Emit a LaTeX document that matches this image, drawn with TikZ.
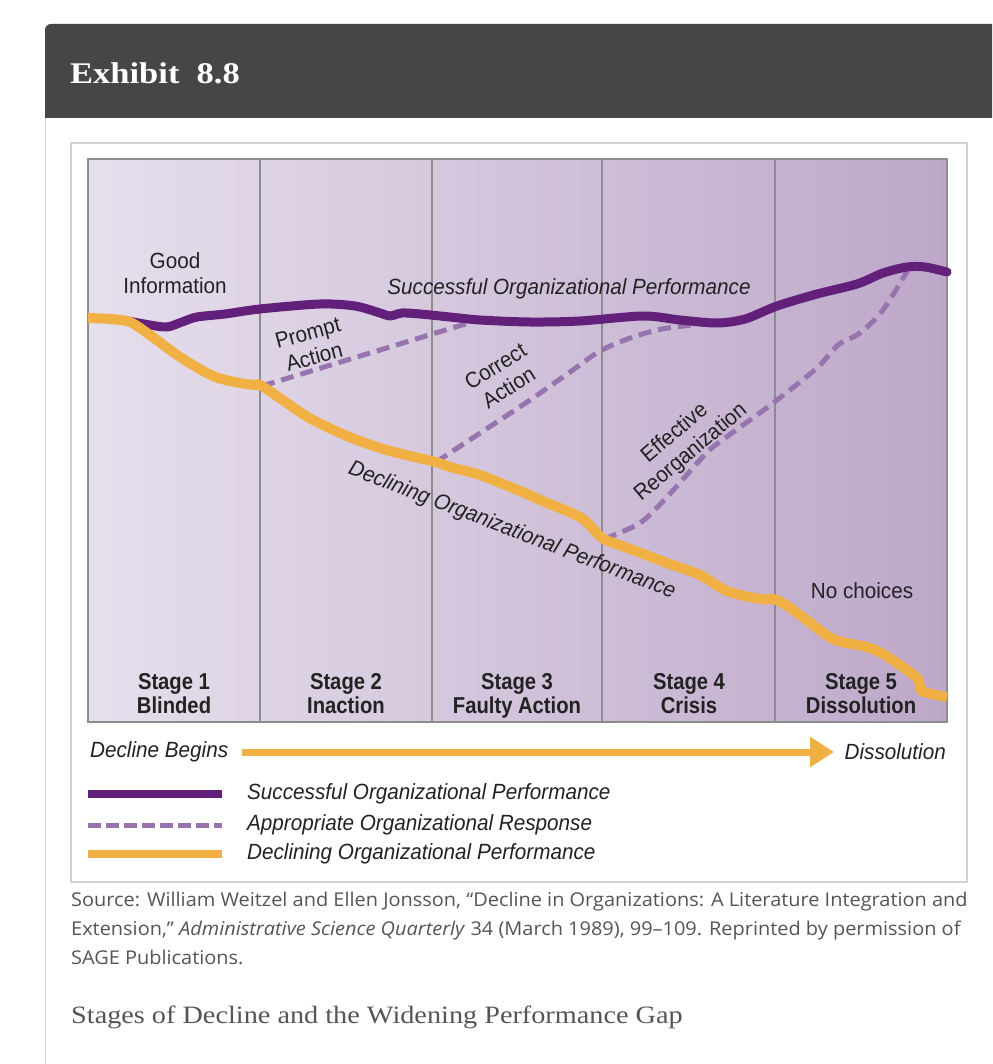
\documentclass[tikz,border=0pt]{standalone}
\usepackage{fontspec}
\setmainfont{Liberation Serif}
\newfontfamily\lab[FakeStretch=0.94]{Liberation Sans}
\newfontfamily\labb[FakeStretch=0.88]{Liberation Sans}
\newfontfamily\srcf[FakeStretch=1.05]{Open Sans}
\newfontfamily\hdrf[FakeStretch=1.15]{Liberation Serif}
\newfontfamily\capf[FakeStretch=1.13]{Liberation Serif}
\usetikzlibrary{arrows.meta}
\definecolor{hdrgray}{HTML}{464646}
\definecolor{cardline}{HTML}{D6D6D6}
\definecolor{framegray}{HTML}{D2D2D2}
\definecolor{gridgray}{HTML}{8C8C8C}
\definecolor{chartL}{HTML}{E6DFEC}
\definecolor{chartR}{HTML}{BDA7C9}
\definecolor{succ}{HTML}{62207A}
\definecolor{resp}{HTML}{9874AE}
\definecolor{decl}{HTML}{F1B043}
\definecolor{txt}{HTML}{222222}
\definecolor{srctxt}{HTML}{555555}
\tikzset{
  gridline/.style={draw=gridgray, line width=2},
  succline/.style={draw=succ, line width=9, line cap=round, line join=round},
  respline/.style={draw=resp, line width=5, dash pattern=on 13 off 7},
  declline/.style={draw=decl, line width=10, line join=round},
  lbl/.style={font=\lab\fontsize{22}{25}\selectfont, text=txt, inner sep=0, align=center},
  ilbl/.style={font=\lab\itshape\fontsize{22}{25}\selectfont, text=txt, inner sep=0, align=center},
  stagelbl/.style={font=\labb\bfseries\fontsize{23}{24}\selectfont, text=txt, inner sep=0, align=center, text depth=5},
  legtxt/.style={font=\lab\itshape\fontsize{22}{25}\selectfont, text=txt, inner sep=0, anchor=west},
  srctext/.style={font=\srcf\fontsize{19}{29}\selectfont, text=srctxt, inner sep=0, anchor=base west},
}
\begin{document}
\begin{tikzpicture}[x=1pt,y=-1pt]
\useasboundingbox (0,0) rectangle (992,1064);
\fill[white] (0,0) rectangle (992,1064);
% card
\draw[cardline, line width=1.5] (45.5,1064) -- (45.5,40);
\fill[hdrgray] (45,118) [rounded corners=6]-- (45,24) [sharp corners]-- (992,24) -- (992,118) -- cycle;
\node[anchor=base west, text=white, inner sep=0, font=\hdrf\bfseries\fontsize{30}{32}\selectfont] (title) at (70,84) {Exhibit\ \ 8.8};
% frame
\draw[framegray, line width=1.2] (71,143) rectangle (967,882);
% chart
\shade[left color=chartL, right color=chartR] (88,159) rectangle (947,722);
\foreach \xx in {260,432,602,775} \draw[gridline] (\xx,159) -- (\xx,722);
\draw[gridline] (88,159) rectangle (947,722);
% junction coordinates
\coordinate (d1) at (262,386);
\coordinate (s1) at (475,321);
\coordinate (d2) at (436,462);
\coordinate (s2) at (692,325);
\coordinate (d3) at (604,539);
\coordinate (s3) at (909,268);
% dashed responses
\draw[respline] (d1) -- (s1);
\draw[respline] plot[smooth, tension=0.5] coordinates {(d2) (500,420) (533,398) (570,372) (600,351) (633,337) (662,329) (s2)};
\draw[respline] plot[smooth, tension=0.5] coordinates {(d3) (640,523) (667,497) (700,460) (713,447) (750,420) (777,400) (817,368) (838,345) (860,333) (883,310) (s3)};
% successful
\draw[succline] plot[smooth, tension=0.5] coordinates {(128,321) (150,325) (167,327) (182,322) (197,317) (225,314) (260,309) (320,304) (355,306) (380,313) (390,316) (402,313) (420,314) (450,317) (480,320) (530,322) (580,321) (643,316) (680,320) (717,323) (745,319) (777,306) (817,294) (857,284) (883,273) (907,267) (925,267) (947,272)};
% declining
\draw[declline] plot[smooth, tension=0.5] coordinates {(88,318) (110,319) (130,322) (150,335) (180,357) (213,376) (240,383) (255,385) (d1) (297,410) (313,420) (347,436) (380,448) (410,456) (d2) (450,467) (480,475) (520,491) (545,502) (567,511) (583,519) (595,531) (d3) (633,550) (667,563) (700,575) (727,591) (760,599) (777,600) (800,615) (833,639) (867,647) (888,657) (917,678) (922,691) (947,697)};
% labels
\node[lbl] (good) at (175,273) {Good\\Information};
\node[ilbl] (succlbl) at (569,289) {Successful Organizational Performance};
\node[lbl, rotate=15] (prompt) at (311,345) {Prompt\\Action};
\node[lbl, rotate=32] (correct) at (502,377) {Correct\\Action};
\node[lbl, rotate=40] (effective) at (683,443) {Effective\\Reorganization};
\node[ilbl, rotate=-21] (decllbl) at (512,531) {Declining Organizational Performance};
\node[lbl] (nochoice) at (862,591) {No choices};
% stages
\node[stagelbl] (st1) at (174,696) {Stage 1\\Blinded};
\node[stagelbl] (st2) at (346,696) {Stage 2\\Inaction};
\node[stagelbl] (st3) at (517,696) {Stage 3\\Faulty Action};
\node[stagelbl] (st4) at (689,696) {Stage 4\\Crisis};
\node[stagelbl] (st5) at (861,696) {Stage 5\\Dissolution};
% time arrow
\node[ilbl, anchor=west] (begins) at (90,752) {Decline Begins};
\node[ilbl, anchor=east] (dissol) at (946,752) {Dissolution};
\draw[decl, line width=7, -{Triangle[width=29pt, length=24pt]}] (242,752) -- (834,752);
% legend
\coordinate (l1a) at (88,794); \coordinate (l1b) at (222,794);
\coordinate (l2a) at (88,825); \coordinate (l2b) at (222,825);
\coordinate (l3a) at (88,854); \coordinate (l3b) at (222,854);
\draw[draw=succ, line width=8] (l1a) -- (l1b);
\draw[draw=resp, line width=5, dash pattern=on 13 off 5] (l2a) -- (l2b);
\draw[draw=decl, line width=8] (l3a) -- (l3b);
\node[legtxt] (leg1) at (247,794) {Successful Organizational Performance};
\node[legtxt] (leg2) at (247,825) {Appropriate Organizational Response};
\node[legtxt] (leg3) at (247,854) {Declining Organizational Performance};
% source
\node[srctext] (src1) at (71,906) {Source: William Weitzel and Ellen Jonsson, “Decline in Organizations: A Literature Integration and};
\node[srctext] (src2) at (71,935) {Extension,” \textit{Administrative Science Quarterly} 34 (March 1989), 99–109. Reprinted by permission of};
\node[srctext] (src3) at (71,964) {SAGE Publications.};
\node[anchor=base west, inner sep=0, text=srctxt, font=\capf\fontsize{25}{28}\selectfont] (caption) at (71,1023) {Stages of Decline and the Widening Performance Gap};
\end{tikzpicture}
\end{document}
